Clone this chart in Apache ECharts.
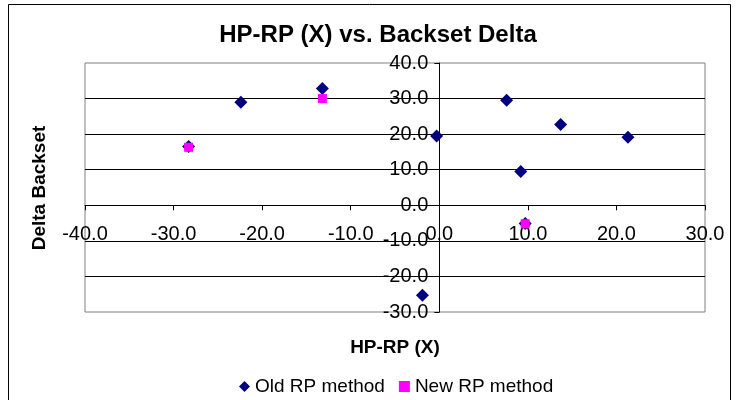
<!DOCTYPE html>
<html>
<head>
<meta charset="utf-8">
<script src="https://cdn.jsdelivr.net/npm/echarts@6/dist/echarts.min.js"></script>
<style>html,body{margin:0;padding:0;background:#fff}#c{width:738px;height:400px}</style>
</head>
<body>
<div id="c"></div>
<script>
var titleText = 'HP-RP (X) vs. Backset Delta';
var xName = 'HP-RP (X)';
var yName = 'Delta Backset';
var seriesNames = ['Old RP method', 'New RP method'];
var oldX = [-28.3, -22.4, -13.2, -0.3, 7.6, 13.7, 21.3, 9.2, 9.7, -1.9];
var oldY = [16.5, 29.0, 32.8, 19.5, 29.5, 22.7, 19.1, 9.5, -5.1, -25.3];
var newX = [-28.3, -13.2, 9.7];
var newY = [16.3, 30.0, -5.2];
var xMin = -40, xMax = 30, yMin = -30, yMax = 40, step = 10;

function pairs(xs, ys) { return xs.map(function (x, i) { return [x, ys[i]]; }); }
var FONT = 'Liberation Sans, Arial, sans-serif';
var G = {left: 85, top: 63, width: 620, height: 249};
// offsets that place each axis where the other axis is zero
var xOff = -(G.height * (0 - yMin) / (yMax - yMin));
var yOff = -(G.width * (0 - xMin) / (xMax - xMin));
var chart = echarts.init(document.getElementById('c'), null, {renderer: 'canvas'});
chart.setOption({
  animation: false,
  backgroundColor: '#fff',
  grid: {left: G.left, top: G.top, width: G.width, height: G.height, show: true, borderColor: '#808080', borderWidth: 1, backgroundColor: 'transparent'},
  xAxis: {
    type: 'value', min: xMin, max: xMax, interval: step, position: 'bottom', offset: xOff,
    axisLine: {onZero: false, lineStyle: {color: '#000', width: 1}},
    axisTick: {show: true, length: 5, lineStyle: {color: '#000'}},
    axisLabel: {color: '#000', fontSize: 20, fontFamily: FONT, margin: 19, formatter: function (v) { return v.toFixed(1); }},
    splitLine: {show: false}
  },
  yAxis: {
    type: 'value', min: yMin, max: yMax, interval: step, position: 'left', offset: yOff,
    axisLine: {onZero: false, lineStyle: {color: '#000', width: 1}},
    axisTick: {show: true, length: 5, lineStyle: {color: '#000'}},
    axisLabel: {color: '#000', fontSize: 20, fontFamily: FONT, margin: 11, formatter: function (v) { return v.toFixed(1); }},
    splitLine: {show: true, showMinLine: false, showMaxLine: false, lineStyle: {color: '#000', width: 1}}
  },
  legend: {
    left: 234, top: 372, itemWidth: 11, itemHeight: 11, itemGap: 14,
    textStyle: {color: '#000', fontSize: 19, fontFamily: FONT},
    data: [{name: seriesNames[0], icon: 'diamond'}, {name: seriesNames[1], icon: 'rect'}]
  },
  graphic: [
    {type: 'rect', silent: true, shape: {x: 8.5, y: 4.5, width: 722, height: 420}, style: {fill: 'none', stroke: '#000', lineWidth: 1}},
    {type: 'text', style: {text: titleText, x: 378, y: 35, align: 'center', verticalAlign: 'middle', font: 'bold 24px ' + FONT, fill: '#000'}},
    {type: 'text', style: {text: xName, x: 395, y: 348, align: 'center', verticalAlign: 'middle', font: 'bold 19px ' + FONT, fill: '#000'}},
    {type: 'text', rotation: Math.PI / 2, x: 40, y: 188, style: {text: yName, x: 0, y: 0, align: 'center', verticalAlign: 'middle', font: 'bold 19px ' + FONT, fill: '#000'}}
  ],
  series: [
    {name: seriesNames[0], type: 'scatter', symbol: 'diamond', symbolSize: 13, itemStyle: {color: '#000080', opacity: 1}, data: pairs(oldX, oldY), z: 3},
    {name: seriesNames[1], type: 'scatter', symbol: 'rect', symbolSize: 9, itemStyle: {color: '#FF00FF', opacity: 1}, data: pairs(newX, newY), z: 4}
  ]
});
</script>
</body>
</html>
